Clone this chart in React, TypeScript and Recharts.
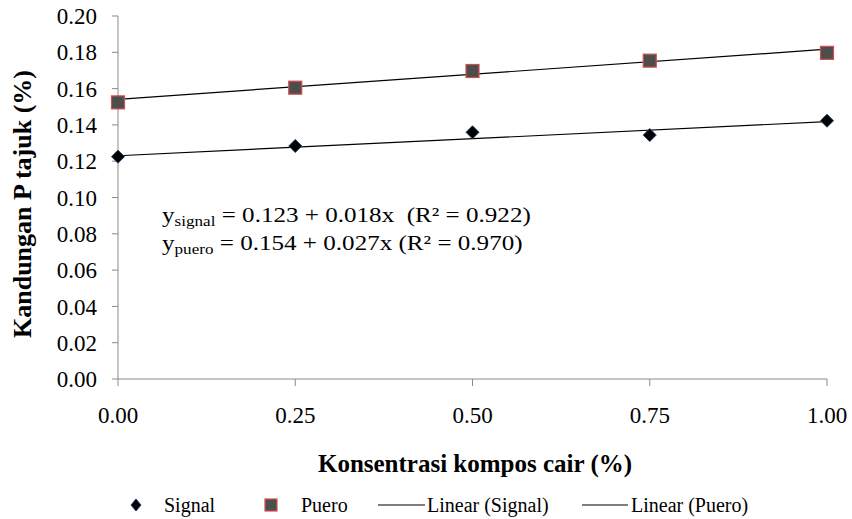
import React from "react";
import { ComposedChart, XAxis, YAxis, Scatter, Line, Legend } from "recharts";

const xValues = [0, 0.25, 0.5, 0.75, 1];
const signalValues = [0.1225, 0.1284, 0.1359, 0.1344, 0.1423];
const pueroValues = [0.1524, 0.1605, 0.1697, 0.1754, 0.1797];
const trendX = [0, 1];
const signalTrend = [0.123, 0.1418];
const pueroTrend = [0.1541, 0.1817];
const xTicks = [0, 0.25, 0.5, 0.75, 1];
const yTicks = [0, 0.02, 0.04, 0.06, 0.08, 0.1, 0.12, 0.14, 0.16, 0.18, 0.2];

const signalData = xValues.map((x, i) => ({ x, y: signalValues[i] }));
const pueroData = xValues.map((x, i) => ({ x, y: pueroValues[i] }));
const signalTrendData = trendX.map((x, i) => ({ x, t: signalTrend[i] }));
const pueroTrendData = trendX.map((x, i) => ({ x, t: pueroTrend[i] }));

const FONT = "Liberation Serif";
const AXIS = "#8a8a8a";

const Diamond = (props: any) => {
  const { cx, cy } = props;
  const r = 6.5;
  return (
    <polygon
      points={`${cx},${cy - r} ${cx + r},${cy} ${cx},${cy + r} ${cx - r},${cy}`}
      fill="#000"
      stroke="#1f3b63"
      strokeWidth={1}
    />
  );
};

const Square = (props: any) => {
  const { cx, cy } = props;
  const s = 13;
  return (
    <rect x={cx - s / 2} y={cy - s / 2} width={s} height={s} fill="#4d4d4d" stroke="#d0504d" strokeWidth={1.2} />
  );
};

const YTitle = () => {
  const cx = 22;
  const cy = 204;
  return (
    <text
      x={cx}
      y={cy}
      transform={`rotate(-90, ${cx}, ${cy})`}
      textAnchor="middle"
      dominantBaseline="central"
      style={{ fontFamily: FONT }}
      fontWeight="bold"
      fontSize={26}
      fill="#000"
    >
      Kandungan P tajuk (%)
    </text>
  );
};

const XTitle = () => (
  <text
    x={475}
    y={463}
    textAnchor="middle"
    dominantBaseline="central"
    style={{ fontFamily: FONT }}
    fontWeight="bold"
    fontSize={25}
    fill="#000"
  >
    Konsentrasi kompos cair (%)
  </text>
);

const legendText: React.CSSProperties = {
  position: "absolute",
  top: 2,
  fontFamily: FONT,
  fontSize: 20,
  color: "#000",
  lineHeight: "24px",
  whiteSpace: "nowrap",
};

const LegendContent = () => (
  <div style={{ position: "relative", width: 852, height: 28 }}>
    <svg style={{ position: "absolute", left: 0, top: 0 }} width={852} height={28}>
      <polygon points="136,8 141,14 136,20 131,14" fill="#000" stroke="#1f3b63" strokeWidth={1} />
      <rect x={265} y={8} width={12} height={12} fill="#4d4d4d" stroke="#d0504d" strokeWidth={1.2} />
      <line x1={378} y1={14} x2={425} y2={14} stroke="#000" strokeWidth={1.2} />
      <line x1={582} y1={14} x2={628} y2={14} stroke="#000" strokeWidth={1.2} />
    </svg>
    <span style={{ ...legendText, left: 164 }}>Signal</span>
    <span style={{ ...legendText, left: 301 }}>Puero</span>
    <span style={{ ...legendText, left: 427 }}>Linear (Signal)</span>
    <span style={{ ...legendText, left: 631 }}>Linear (Puero)</span>
  </div>
);

const eqStyle: React.CSSProperties = {
  position: "absolute",
  fontFamily: FONT,
  fontSize: 22,
  color: "#000",
  whiteSpace: "nowrap",
  lineHeight: "26px",
  transform: "scaleX(1.14)",
  transformOrigin: "left center",
};
const subStyle: React.CSSProperties = { fontSize: 15, verticalAlign: "-4px" };

export default function App() {
  return (
    <div style={{ position: "absolute", left: 0, top: 0, width: 852, height: 519, background: "#fff", fontFamily: FONT }}>
      <ComposedChart
        width={852}
        height={519}
        margin={{ top: 16, right: 25, bottom: 0, left: 0 }}
        style={{ fontFamily: FONT }}
      >
        <XAxis
          type="number"
          dataKey="x"
          domain={[0, 1]}
          ticks={xTicks}
          tickFormatter={(v: number) => v.toFixed(2)}
          height={112}
          stroke={AXIS}
          tickSize={7}
          tickMargin={21}
          tick={{ fill: "#000", fontSize: 23, style: { fontFamily: FONT } }}
          label={<XTitle />}
          allowDuplicatedCategory={false}
        />
        <YAxis
          type="number"
          domain={[0, 0.2]}
          ticks={yTicks}
          tickFormatter={(v: number) => v.toFixed(2)}
          width={118}
          stroke={AXIS}
          tickSize={6}
          tickMargin={15}
          tick={{ fill: "#000", fontSize: 23, style: { fontFamily: FONT } }}
          label={<YTitle />}
        />
        <Scatter name="Signal" data={signalData} dataKey="y" shape={<Diamond />} isAnimationActive={false} />
        <Scatter name="Puero" data={pueroData} dataKey="y" shape={<Square />} isAnimationActive={false} />
        <Line
          name="Linear (Signal)"
          data={signalTrendData}
          dataKey="t"
          stroke="#000"
          strokeWidth={1.2}
          dot={false}
          activeDot={false}
          isAnimationActive={false}
        />
        <Line
          name="Linear (Puero)"
          data={pueroTrendData}
          dataKey="t"
          stroke="#000"
          strokeWidth={1.2}
          dot={false}
          activeDot={false}
          isAnimationActive={false}
        />
        <Legend
          verticalAlign="bottom"
          height={28}
          content={<LegendContent />}
          wrapperStyle={{ left: 0, width: 852 }}
        />
      </ComposedChart>
      <div style={{ ...eqStyle, left: 162, top: 202 }}>
        y<span style={subStyle}>signal</span> = 0.123 + 0.018x&nbsp; (R² = 0.922)
      </div>
      <div style={{ ...eqStyle, left: 162, top: 230 }}>
        y<span style={subStyle}>puero</span> = 0.154 + 0.027x (R² = 0.970)
      </div>
    </div>
  );
}
